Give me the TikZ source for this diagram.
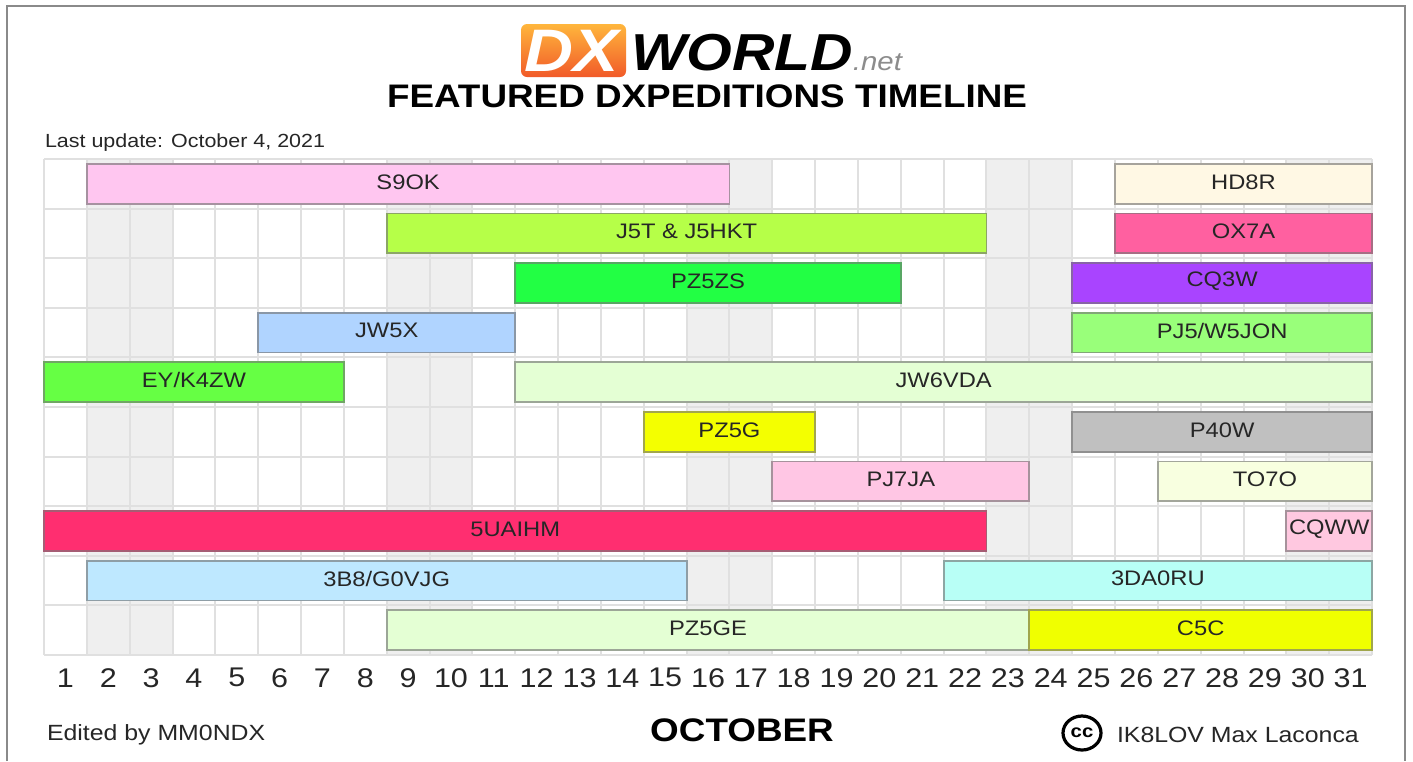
\documentclass[tikz,border=0pt]{standalone}
\usepackage{fontspec}
\setmainfont{Liberation Sans}[FakeStretch=1.13]
\usepackage{tikz}

\definecolor{gridgray}{HTML}{E0E0E0}
\definecolor{weekendgray}{HTML}{EFEFEF}
\definecolor{framegray}{HTML}{8A8A8A}
\definecolor{textgray}{HTML}{262626}
\definecolor{logotop}{HTML}{FFB63C}
\definecolor{logobottom}{HTML}{F15A29}
\definecolor{netgray}{HTML}{8C8C8C}

\definecolor{cSnineOK}{HTML}{FFC6F0}
\definecolor{cJfiveT}{HTML}{B6FF48}
\definecolor{cPZfiveZS}{HTML}{22FF44}
\definecolor{cJWfiveX}{HTML}{B0D4FF}
\definecolor{cEYKfourZW}{HTML}{66FF44}
\definecolor{cJWsixVDA}{HTML}{E4FFD4}
\definecolor{cHDeightR}{HTML}{FFF8E4}
\definecolor{cOXsevenA}{HTML}{FF60A0}
\definecolor{cCQthreeW}{HTML}{A944FF}
\definecolor{cPJfiveW}{HTML}{99FF7A}
\definecolor{cPZfiveG}{HTML}{F4FF00}
\definecolor{cPfourW}{HTML}{C0C0C0}
\definecolor{cPJsevenJA}{HTML}{FFC6E4}
\definecolor{cTOsevenO}{HTML}{F8FFE0}
\definecolor{cFiveUAIHM}{HTML}{FF2E70}
\definecolor{cCQWW}{HTML}{FFC8E0}
\definecolor{cThreeBeight}{HTML}{BEE8FF}
\definecolor{cThreeDA}{HTML}{B8FFF6}
\definecolor{cPZfiveGE}{HTML}{E4FFD4}
\definecolor{cCfiveC}{HTML}{F0FF00}

\begin{document}
\begin{tikzpicture}[x=0.5pt, y=-0.5pt]
\tikzset{inner sep=0pt, outer sep=0pt}
\tikzset{gridline/.style={draw=gridgray, line width=1pt},
         weekend/.style={fill=weekendgray},
         bar/.style={draw=#1!50!black!70, fill=#1, line width=0.9pt},
         bartext/.style={text=textgray, yshift=1pt, font=\fontsize{10.5}{12}\selectfont},
         daynum/.style={text=textgray, font=\fontsize{13.5}{16}\selectfont},
         smalltext/.style={text=textgray, font=\fontsize{9.5}{11}\selectfont},
         notetext/.style={text=textgray, font=\fontsize{11}{13}\selectfont},
         headtext/.style={font=\fontsize{16.3}{19}\selectfont\bfseries}}

\useasboundingbox (0,0) rectangle (1413,761);
\fill [white] (0,0) rectangle (1413,761);

\draw [framegray, line width=1pt] (7,761) -- (7,6) -- (1405,6) -- (1405,761);

% logo
\shade [top color=logotop, bottom color=logobottom, rounded corners=3pt] (521,24) rectangle (626,77);
\node (dx) [text=white, font=\fontsize{30}{30}\selectfont\bfseries\itshape] at (572,51) {DX};
\node (world) [anchor=base west, font=\fontsize{26}{26}\selectfont\bfseries\itshape] at (631,70) {WORLD};
\node (net) [anchor=base west, text=netgray, font=\fontsize{13}{13}\selectfont\itshape] at (world.base east) {.net};

\node (title) [headtext] at (707,96) {FEATURED DXPEDITIONS TIMELINE};
\node (update) [smalltext, anchor=west] at (45,143) {Last update: October 4, 2021};

\begin{scope}[shift={(44,159)}, x=21.42pt, y=-24.8pt]

\foreach \d in {1,8,15,22,29}
  \fill [weekend] (\d,0) rectangle (\d+2,10);
\foreach \d in {0,...,31}
  \draw [gridline] (\d,0) -- (\d,10);
\foreach \r in {0,...,10}
  \draw [gridline] (0,\r) -- (31,\r);

\draw [bar=cSnineOK] (1,0.1) rectangle node [bartext] (s9ok) {S9OK} (16,0.9);
\draw [bar=cHDeightR] (25,0.1) rectangle node [bartext] (hd8r) {HD8R} (31,0.9);

\draw [bar=cJfiveT] (8,1.1) rectangle node [bartext] (j5t) {J5T \& J5HKT} (22,1.9);
\draw [bar=cOXsevenA] (25,1.1) rectangle node [bartext] (ox7a) {OX7A} (31,1.9);

\draw [bar=cPZfiveZS] (11,2.1) rectangle node [bartext] (pz5zs) {PZ5ZS} (20,2.9);
\draw [bar=cCQthreeW] (24,2.1) rectangle node [bartext] (cq3w) {CQ3W} (31,2.9);

\draw [bar=cJWfiveX] (5,3.1) rectangle node [bartext] (jw5x) {JW5X} (11,3.9);
\draw [bar=cPJfiveW] (24,3.1) rectangle node [bartext] (pj5) {PJ5/W5JON} (31,3.9);

\draw [bar=cEYKfourZW] (0,4.1) rectangle node [bartext] (eyk4zw) {EY/K4ZW} (7,4.9);
\draw [bar=cJWsixVDA] (11,4.1) rectangle node [bartext] (jw6vda) {JW6VDA} (31,4.9);

\draw [bar=cPZfiveG] (14,5.1) rectangle node [bartext] (pz5g) {PZ5G} (18,5.9);
\draw [bar=cPfourW] (24,5.1) rectangle node [bartext] (p40w) {P40W} (31,5.9);

\draw [bar=cPJsevenJA] (17,6.1) rectangle node [bartext] (pj7ja) {PJ7JA} (23,6.9);
\draw [bar=cTOsevenO] (26,6.1) rectangle node [bartext] (to7o) {TO7O} (31,6.9);

\draw [bar=cFiveUAIHM] (0,7.1) rectangle node [bartext] (uaihm) {5UAIHM} (22,7.9);
\draw [bar=cCQWW] (29,7.1) rectangle node [bartext] (cqww) {CQWW} (31,7.9);

\draw [bar=cThreeBeight] (1,8.1) rectangle node [bartext] (g0vjg) {3B8/G0VJG} (15,8.9);
\draw [bar=cThreeDA] (21,8.1) rectangle node [bartext] (da0ru) {3DA0RU} (31,8.9);

\draw [bar=cPZfiveGE] (8,9.1) rectangle node [bartext] (pz5ge) {PZ5GE} (23,9.9);
\draw [bar=cCfiveC] (23,9.1) rectangle node [bartext] (c5c) {C5C} (31,9.9);

\foreach \d in {1,...,31}
  \node (day\d) [daynum] at (\d-0.5,10.46) {\d};

\end{scope}

\node (editor) [notetext, anchor=west] at (47,735) {Edited by MM0NDX};
\node (month) [headtext] at (742,730) {OCTOBER};

\node (ccmark) [font=\fontsize{9}{9}\selectfont\bfseries] at (1082,733) {cc};
\draw [line width=1.6pt] (ccmark.center) ellipse [x radius=19, y radius=17];
\node (author) [notetext, anchor=west] at (1117,735) {IK8LOV Max Laconca};

\end{tikzpicture}
\end{document}
